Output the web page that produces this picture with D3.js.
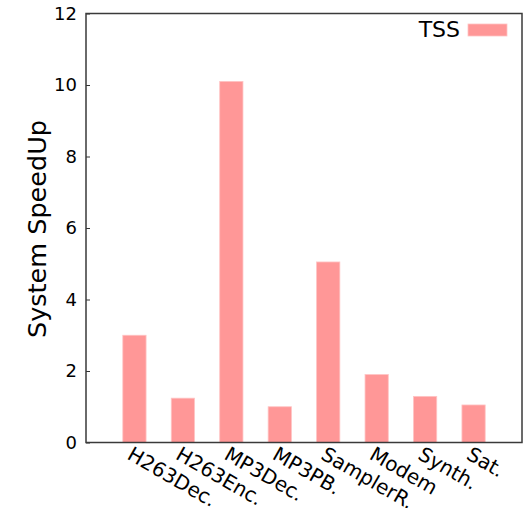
<!DOCTYPE html>
<html>
<head>
<meta charset="utf-8">
<script src="https://cdn.jsdelivr.net/npm/d3@7"></script>
<style>
  body { margin: 0; background: #fff; }
  text { font-family: "DejaVu Sans", sans-serif; fill: #000; }
</style>
</head>
<body>
<svg id="chart"></svg>
<script>
// data
var categories = ["H263Dec.", "H263Enc.", "MP3Dec.", "MP3PB.", "SamplerR.", "Modem", "Synth.", "Sat."];
var tssValues = [3.0, 1.24, 10.1, 1.0, 5.05, 1.9, 1.29, 1.05];
var yTicks = [0, 2, 4, 6, 8, 10, 12];
var seriesName = "TSS";

var width = 529, height = 508;
var plotL = 86, plotR = 522, plotT = 13.5, plotB = 442.5;
var barColor = "#ff9797";

var svg = d3.select("#chart")
    .attr("width", width)
    .attr("height", height);

var x = d3.scaleLinear().domain([-1, 8]).range([plotL, plotR]);
var y = d3.scaleLinear().domain([0, 12]).range([plotB, plotT]);
var barW = x(0.48) - x(0);

// bars
svg.selectAll("rect.bar")
    .data(tssValues)
    .enter().append("rect")
    .attr("class", "bar")
    .attr("x", function(d, i) { return x(i) - barW / 2; })
    .attr("y", function(d) { return y(d); })
    .attr("width", barW)
    .attr("height", function(d) { return y(0) - y(d); })
    .style("fill", barColor)
    .style("stroke", "#ffc4c4")
    .style("stroke-width", 0.8);

// y axis ticks + labels (inward ticks)
var yAxis = d3.axisLeft(y)
    .tickValues(yTicks)
    .tickSize(-4)
    .tickPadding(10)
    .tickFormat(d3.format("d"));
var gy = svg.append("g")
    .attr("transform", "translate(" + plotL + ",0)")
    .call(yAxis);
gy.select(".domain").remove();
gy.selectAll("line").attr("stroke", "#333");
gy.selectAll("text")
    .style("font-size", "18px")
    .style("font-family", "DejaVu Sans, sans-serif")
    .attr("x", -9);

// x labels rotated
svg.selectAll("text.xlab")
    .data(categories)
    .enter().append("text")
    .attr("class", "xlab")
    .attr("transform", function(d, i) {
        return "translate(" + (x(i) - 1) + "," + (plotB + 3) + ") rotate(30)";
    })
    .attr("dy", "0.74em")
    .attr("text-anchor", "start")
    .style("font-size", "20px")
    .text(function(d) { return d; });

// border
svg.append("rect")
    .attr("x", plotL)
    .attr("y", plotT)
    .attr("width", plotR - plotL)
    .attr("height", plotB - plotT)
    .style("fill", "none")
    .style("stroke", "#3a3a3a")
    .style("stroke-width", 1.5);

// y label
svg.append("text")
    .attr("transform", "translate(46,229) rotate(-90)")
    .attr("text-anchor", "middle")
    .style("font-size", "25.5px")
    .text("System SpeedUp");

// legend
svg.append("text")
    .attr("x", 460)
    .attr("y", 37)
    .attr("text-anchor", "end")
    .style("font-size", "22px")
    .text(seriesName);
svg.append("rect")
    .attr("x", 468)
    .attr("y", 24)
    .attr("width", 39)
    .attr("height", 12)
    .style("fill", barColor)
    .style("stroke", "#ffc4c4")
    .style("stroke-width", 0.8);
</script>
</body>
</html>
